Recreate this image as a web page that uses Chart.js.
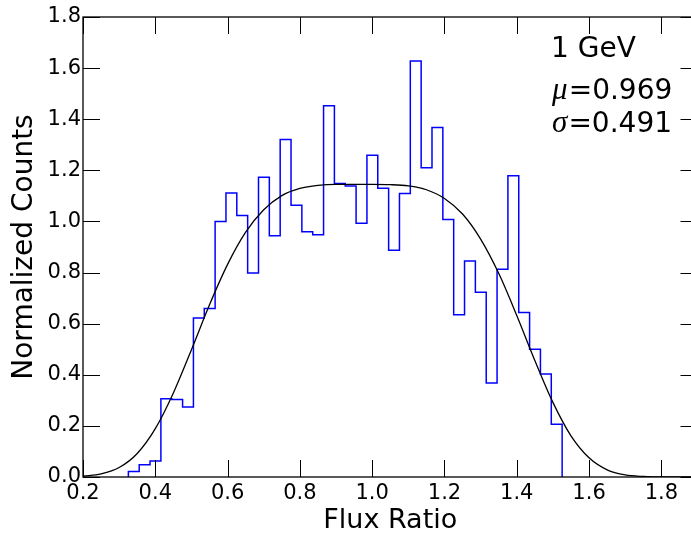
<!DOCTYPE html>
<html>
<head>
<meta charset="utf-8">
<script src="https://cdn.jsdelivr.net/npm/chart.js@4.4.1/dist/chart.umd.min.js"></script>
<style>
  html, body { margin: 0; padding: 0; background: #fff; overflow: hidden; }
  #wrap { width: 700px; height: 534px; }
</style>
</head>
<body>
<div id="wrap"><canvas id="chart" width="700" height="534"></canvas></div>
<script>
// histogram bins (Flux Ratio), 40 bins of equal width
const binStart = 0.3255;
const binWidth = 0.03;
const counts = [0.022, 0.048, 0.063, 0.306, 0.303, 0.274, 0.622, 0.659, 1.000, 1.111,
                1.023, 0.798, 1.173, 0.944, 1.321, 1.063, 0.960, 0.948, 1.453, 1.148,
                1.139, 0.993, 1.259, 1.130, 0.887, 1.109, 1.628, 1.210, 1.368, 1.008,
                0.635, 0.845, 0.723, 0.368, 0.813, 1.179, 0.644, 0.500, 0.403, 0.206];

// fitted curve
const fitX = [0.20, 0.25, 0.30, 0.35, 0.40, 0.45, 0.50, 0.55, 0.60, 0.65, 0.70, 0.75,
              0.80, 0.85, 0.90, 0.95, 1.00, 1.05, 1.10, 1.15, 1.20, 1.25, 1.30, 1.35,
              1.40, 1.45, 1.50, 1.55, 1.60, 1.65, 1.70, 1.75, 1.80, 1.85, 1.90];
const fitY = [0.003, 0.012, 0.037, 0.092, 0.189, 0.329, 0.498, 0.674, 0.832, 0.958, 1.046, 1.101,
              1.129, 1.141, 1.145, 1.145, 1.145, 1.144, 1.139, 1.124, 1.090, 1.029, 0.931, 0.797,
              0.632, 0.456, 0.292, 0.161, 0.075, 0.028, 0.008, 0.002, 0.000, 0.000, 0.000];

const energyLabel = '1 GeV';
const muText = '0.969';
const sigmaText = '0.491';

// step outline: up from zero at the first edge, across each bin, down at the last edge
const histPoints = [{x: binStart, y: 0}];
counts.forEach((c, i) => histPoints.push({x: binStart + i * binWidth, y: c}));
histPoints.push({x: binStart + counts.length * binWidth, y: 0});

const fitPoints = fitX.map((x, i) => ({x: x, y: fitY[i]}));

const sans = "'DejaVu Sans', sans-serif";

// inward ticks on all four sides, frame, and the text in the corner
const framePlugin = {
    id: 'frame',
    afterDraw(chart) {
        const ctx = chart.ctx;
        const a = chart.chartArea;
        const xs = chart.scales.x;
        const ys = chart.scales.y;
        const len = 17;
        ctx.save();
        ctx.strokeStyle = '#000';
        ctx.lineWidth = 1;
        ctx.beginPath();
        xs.ticks.forEach(t => {
            const px = Math.round(xs.getPixelForValue(t.value)) + 0.5;
            ctx.moveTo(px, a.bottom); ctx.lineTo(px, a.bottom - len);
            ctx.moveTo(px, a.top); ctx.lineTo(px, a.top + len);
        });
        ys.ticks.forEach(t => {
            const py = Math.round(ys.getPixelForValue(t.value)) + 0.5;
            ctx.moveTo(a.left, py); ctx.lineTo(a.left + len, py);
            ctx.moveTo(a.right, py); ctx.lineTo(a.right - len, py);
        });
        ctx.stroke();
        ctx.lineWidth = 1.3;
        ctx.strokeRect(a.left, a.top, a.right - a.left, a.bottom - a.top);

        // annotation
        ctx.fillStyle = '#000';
        ctx.textBaseline = 'alphabetic';
        ctx.textAlign = 'left';
        const tx = xs.getPixelForValue(1.495);
        ctx.font = '28px ' + sans;
        ctx.fillText(energyLabel, tx, ys.getPixelForValue(1.643));

        function mathLine(sym, val, yv) {
            const py = ys.getPixelForValue(yv);
            ctx.font = "italic 31px 'Liberation Serif', serif";
            ctx.fillText(sym, tx + 1, py);
            const w = ctx.measureText(sym).width;
            ctx.font = '28px ' + sans;
            ctx.fillText('=' + val, tx + 1 + w + 1, py);
        }
        mathLine('\u03bc', muText, 1.478);
        mathLine('\u03c3', sigmaText, 1.350);
        ctx.restore();
    }
};

const chart = new Chart(document.getElementById('chart'), {
    type: 'line',
    data: {
        datasets: [
            {
                label: 'fit',
                data: fitPoints,
                borderColor: '#000',
                borderWidth: 1.3,
                pointRadius: 0,
                fill: false,
                cubicInterpolationMode: 'monotone'
            },
            {
                label: 'histogram',
                data: histPoints,
                borderColor: '#0000ff',
                borderWidth: 1.5,
                pointRadius: 0,
                fill: false,
                stepped: 'before'
            }
        ]
    },
    options: {
        responsive: false,
        animation: false,
        devicePixelRatio: 1,
        layout: { padding: { top: 17, right: 2.5, left: 0, bottom: 0 } },
        plugins: {
            legend: { display: false },
            tooltip: { enabled: false }
        },
        scales: {
            x: {
                type: 'linear',
                min: 0.2,
                max: 1.9,
                grid: { display: false, drawTicks: false },
                border: { display: false },
                ticks: {
                    stepSize: 0.2,
                    includeBounds: false,
                    autoSkip: false,
                    maxRotation: 0,
                    padding: 4,
                    color: '#000',
                    font: { family: sans, size: 21 },
                    callback: v => v.toFixed(1)
                },
                title: {
                    display: true,
                    text: 'Flux Ratio',
                    color: '#000',
                    font: { family: sans, size: 27, lineHeight: 1 },
                    padding: { top: 0, bottom: 0 }
                },
                afterFit: s => { s.height = 57; }
            },
            y: {
                min: 0,
                max: 1.8,
                grid: { display: false, drawTicks: false },
                border: { display: false },
                ticks: {
                    stepSize: 0.2,
                    padding: 2,
                    color: '#000',
                    font: { family: sans, size: 21 },
                    callback: v => v.toFixed(1)
                },
                title: {
                    display: true,
                    text: 'Normalized Counts',
                    color: '#000',
                    font: { family: sans, size: 28, lineHeight: 1 },
                    padding: { top: 11, bottom: 0 }
                },
                afterFit: s => { s.width = 83; }
            }
        }
    },
    plugins: [framePlugin]
});
</script>
</body>
</html>
